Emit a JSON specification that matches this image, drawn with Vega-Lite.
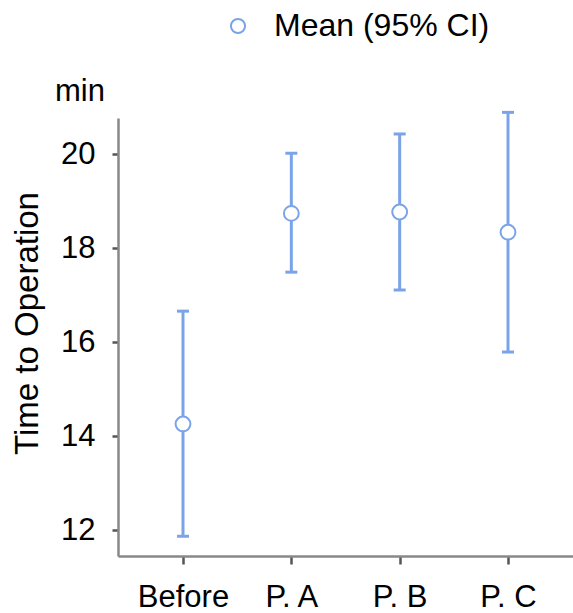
{
  "$schema": "https://vega.github.io/schema/vega-lite/v6.json",
  "width": 455,
  "height": 438,
  "autosize": {"type": "none"},
  "padding": {"left": 118, "top": 118, "right": 0, "bottom": 57},
  "background": "white",
  "config": {
    "view": {"stroke": null},
    "font": "Liberation Sans",
    "title": {"font": "Liberation Sans"},
    "axis": {"labelFont": "Liberation Sans", "titleFont": "Liberation Sans"},
    "legend": {"labelFont": "Liberation Sans"}
  },
  "title": {
    "text": "min",
    "anchor": "start",
    "frame": "group",
    "orient": "top",
    "fontSize": 31,
    "fontWeight": "normal",
    "color": "#000000",
    "baseline": "alphabetic",
    "dx": -63,
    "offset": -122
  },
  "data": {
    "values": [
      {"group": "Before", "mean": 14.26, "lower": 11.87, "upper": 16.66, "series": "Mean (95% CI)"},
      {"group": "P. A", "mean": 18.74, "lower": 17.49, "upper": 20.02, "series": "Mean (95% CI)"},
      {"group": "P. B", "mean": 18.77, "lower": 17.11, "upper": 20.43, "series": "Mean (95% CI)"},
      {"group": "P. C", "mean": 18.34, "lower": 15.79, "upper": 20.89, "series": "Mean (95% CI)"}
    ]
  },
  "encoding": {
    "x": {
      "field": "group",
      "type": "ordinal",
      "sort": null,
      "scale": {"type": "point", "padding": 0.6},
      "axis": {
        "title": null,
        "labelAngle": 0,
        "labelFontSize": 31,
        "labelColor": "#000000",
        "labelPadding": 18,
        "tickSize": 8,
        "tickWidth": 2.5,
        "tickColor": "#555555",
        "domainColor": "#888888",
        "domainWidth": 2.5,
        "grid": false
      }
    }
  },
  "layer": [
    {
      "mark": {"type": "rule", "color": "#7BA4E8", "strokeWidth": 3},
      "encoding": {
        "y": {
          "field": "lower",
          "type": "quantitative",
          "scale": {"domain": [11.45, 20.77], "nice": false, "zero": false},
          "axis": {
            "title": "Time to Operation",
            "titleFontSize": 33,
            "titleFontWeight": "normal",
            "titleColor": "#000000",
            "titleBaseline": "alphabetic",
            "titleX": -81,
            "titleY": 205,
            "titleAngle": -90,
            "values": [12, 14, 16, 18, 20],
            "labelFontSize": 31,
            "labelColor": "#000000",
            "labelPadding": 17,
            "tickSize": 6,
            "tickWidth": 2.5,
            "tickColor": "#555555",
            "domainColor": "#888888",
            "domainWidth": 2.5,
            "grid": false
          }
        },
        "y2": {"field": "upper"}
      }
    },
    {
      "mark": {"type": "tick", "color": "#7BA4E8", "thickness": 3, "size": 12, "opacity": 1},
      "encoding": {"y": {"field": "upper", "type": "quantitative"}}
    },
    {
      "mark": {"type": "tick", "color": "#7BA4E8", "thickness": 3, "size": 12, "opacity": 1},
      "encoding": {"y": {"field": "lower", "type": "quantitative"}}
    },
    {
      "mark": {"type": "point", "shape": "circle", "filled": false, "fill": "white", "fillOpacity": 1, "strokeWidth": 2, "size": 220, "opacity": 1},
      "encoding": {
        "y": {"field": "mean", "type": "quantitative"},
        "stroke": {
          "field": "series",
          "type": "nominal",
          "scale": {"range": ["#7BA4E8"]},
          "legend": {
            "title": null,
            "orient": "none",
            "legendX": 104,
            "legendY": -108,
            "labelFontSize": 32,
            "labelLimit": 500,
            "labelColor": "#000000",
            "symbolFillColor": "white",
            "symbolSize": 200,
            "symbolStrokeWidth": 2,
            "symbolType": "circle",
            "symbolStrokeColor": "#A9C4F0",
            "labelOffset": 20
          }
        }
      }
    }
  ]
}
